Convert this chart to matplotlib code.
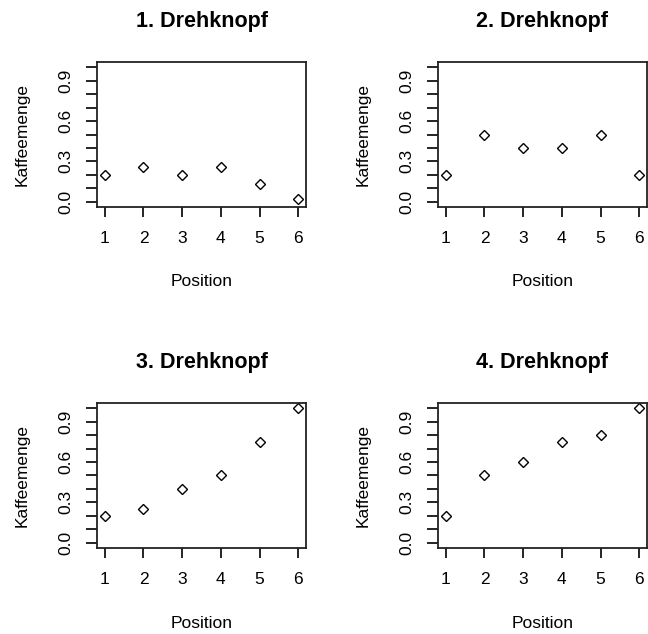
import numpy as np
import matplotlib
matplotlib.use("Agg")
import matplotlib.pyplot as plt

plt.rcParams['font.family'] = ['Liberation Sans', 'DejaVu Sans']

positions = [1, 2, 3, 4, 5, 6]
knopf1 = [0.2, 0.26, 0.2, 0.26, 0.13, 0.02]
knopf2 = [0.2, 0.5, 0.4, 0.4, 0.5, 0.2]
knopf3 = [0.2, 0.25, 0.4, 0.5, 0.75, 1.0]
knopf4 = [0.2, 0.5, 0.6, 0.75, 0.8, 1.0]
titles = ["1. Drehknopf", "2. Drehknopf", "3. Drehknopf", "4. Drehknopf"]
series = [knopf1, knopf2, knopf3, knopf4]

yticks = np.round(np.arange(0, 1.01, 0.1), 1)
ylabels = ["%.1f" % t if t in (0.0, 0.3, 0.6, 0.9) else "" for t in yticks]

W, H = 648, 634
fig = plt.figure(figsize=(W / 100, H / 100), dpi=100)

# box positions in pixels: left, top
boxes = [(97, 62), (438, 62), (97, 403), (438, 403)]
bw, bh = 209, 145

for (left, top), vals, title in zip(boxes, series, titles):
    ax = fig.add_axes([left / W, 1 - (top + bh) / H, bw / W, bh / H])
    ax.plot(positions, vals, linestyle='none', marker='D', markersize=5.5,
            markerfacecolor='white', markeredgecolor='black', markeredgewidth=1.0)
    ax.set_xlim(0.8, 6.2)
    ax.set_ylim(-0.04, 1.04)
    ax.set_xticks(positions)
    ax.set_yticks(yticks)
    ax.set_yticklabels(ylabels, rotation=90, va='center')
    ax.tick_params(axis='x', direction='out', length=7, width=1.2, pad=10, labelsize=12.5)
    ax.tick_params(axis='y', direction='out', length=8, width=1.2, pad=9, labelsize=12.5)
    for s in ax.spines.values():
        s.set_linewidth(1.3)
        s.set_color('#222222')
    ax.set_title(title, fontsize=15.5, fontweight='bold', pad=25)
    ax.set_xlabel("Position", fontsize=12.5)
    ax.set_ylabel("Kaffeemenge", fontsize=12.5)
    ax.xaxis.set_label_coords(0.5, -75 / bh)
    ax.xaxis.label.set_va('center')
    ax.yaxis.set_label_coords((22 - 97) / bw, 0.5)
    ax.yaxis.label.set_va('center')

fig.savefig("out.png", dpi=100)
